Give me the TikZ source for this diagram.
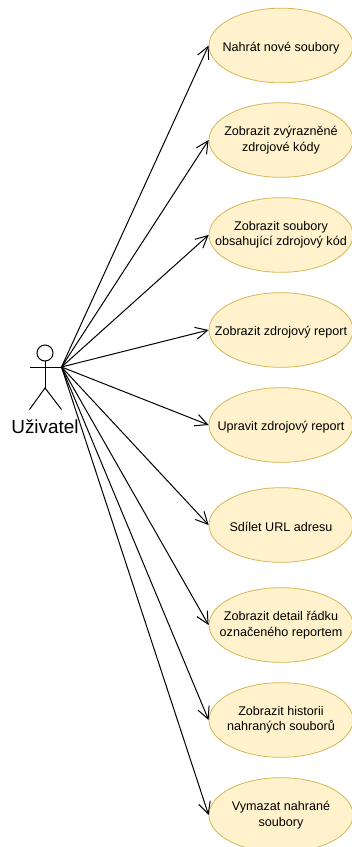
\documentclass[tikz,border=0pt]{standalone}
\usepackage{fontspec}
\setmainfont{Liberation Sans}
\usetikzlibrary{arrows.meta}
\usetikzlibrary{shapes.geometric}
\definecolor{casefill}{HTML}{FFF2CC}
\definecolor{caseline}{HTML}{D6B656}
\tikzset{
usecase/.style={ellipse, draw=caseline, fill=casefill, line width=0.6pt, minimum width=108pt, minimum height=56pt, inner sep=-20pt, align=center, font=\fontsize{9.45}{11.5}\selectfont, execute at begin node={\rule{0pt}{10.5pt}}},
usearrow/.style={-{Straight Barb[length=9pt,width=9pt,line width=0.75pt]}, line width=0.75pt, black}
}

\begin{document}
\begin{tikzpicture}[x=0.75pt,y=-0.75pt]
\useasboundingbox[clip] (0,0) rectangle (352,847);

%actor
\draw[line width=0.75pt] (45,353) circle (8);
\draw[line width=0.75pt] (45,361) -- (45,388);
\draw[line width=0.75pt] (29.5,367) -- (61.5,367);
\draw[line width=0.75pt] (29.5,409.5) -- (45,388) -- (61.5,409.5);
\coordinate (hand) at (61.5,367);
\node[font=\fontsize{14.2}{16}\selectfont, inner sep=0pt] (uzivatel) at (45,427) {Uživatel};

%use cases
\node[usecase] (nahrat) at (281,45.5) {Nahrát nové soubory};
\node[usecase] (kody) at (281,140) {Zobrazit zvýrazněné\\zdrojové kódy};
\node[usecase] (soubory) at (281,235) {Zobrazit soubory\\obsahující zdrojový kód};
\node[usecase] (report) at (281,330) {Zobrazit zdrojový report};
\node[usecase] (upravit) at (281,425) {Upravit zdrojový report};
\node[usecase] (url) at (281,525) {Sdílet URL adresu};
\node[usecase] (detail) at (281,625) {Zobrazit detail řádku\\označeného reportem};
\node[usecase] (historie) at (281,720) {Zobrazit historii\\nahraných souborů};
\node[usecase] (vymazat) at (281,815) {Vymazat nahrané\\soubory};

%arrows
\foreach \x in {nahrat,kody,soubory,report,upravit,url,detail,historie,vymazat} {
\draw[usearrow] (hand) -- (\x.west);
}

\end{tikzpicture}
\end{document}
